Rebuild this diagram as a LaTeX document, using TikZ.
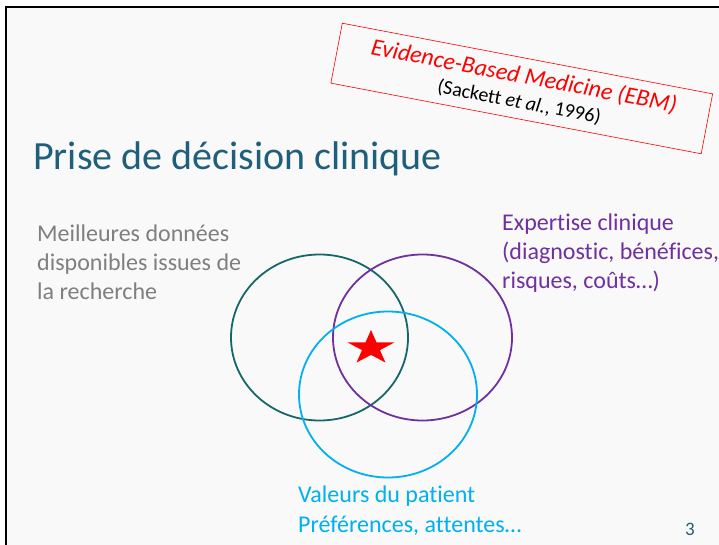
\documentclass[tikz,border=0pt]{standalone}
\usepackage{fontspec}
\setmainfont{Carlito}[Ligatures=NoCommon]
\usepackage{xcolor}
\usetikzlibrary{shapes.geometric}
\definecolor{titleteal}{HTML}{1F5F7B}
\definecolor{evteal}{HTML}{17676A}
\definecolor{expurple}{HTML}{7030A0}
\definecolor{patcyan}{HTML}{00B0F0}
\definecolor{evgray}{HTML}{7F7F7F}
\definecolor{slidebg}{HTML}{F9F9F9}

\begin{document}
\begin{tikzpicture}[
  x=1bp, y=-1bp,
  ring/.style={ellipse, draw, line width=1.8bp, inner sep=0pt, minimum width=177bp, minimum height=166bp},
  label/.style={anchor=base west, align=left, inner sep=0pt, font=\fontsize{24bp}{28.5bp}\selectfont},
  ebm/.style={draw=red, line width=0.6bp, align=center, inner sep=0pt, minimum width=377bp, minimum height=61bp}
]
\useasboundingbox (0,0) rectangle (719,545);
\fill[white] (0,0) rectangle (719,545);
\fill[slidebg] (6,7) rectangle (719,545);
\draw[line width=2.2bp] (6,545) -- (6,7) -- (719,7);

% title
\node[anchor=base west, inner sep=0pt, text=titleteal, font=\fontsize{40bp}{48bp}\selectfont] (title) at (33,170) {Prise de décision clinique};

% EBM label, tilted
\begin{scope}[shift={(521.75,88.5)}, rotate=-10.8]
\node[ebm, transform shape, font=\fontsize{20bp}{25bp}\selectfont] (ebm) at (0,0) {{\color{red}\itshape\fontsize{24bp}{25bp}\selectfont Evidence-Based Medicine (EBM)}\\
  (Sackett \textit{et al.}, 1996)};
\end{scope}

% three circles
\node[ring, draw=evteal] (evid) at (319.5,337.5) {};
\node[ring, draw=expurple, minimum width=179bp] (expert) at (422.5,337.5) {};
\node[ring, draw=patcyan, minimum width=178bp] (patient) at (388,394.5) {};

% star in the middle
\begin{scope}[shift={(371,348)}, xscale=1.37]
\node[star, star points=5, star point ratio=2.62, fill=red, inner sep=0pt, minimum size=36bp, transform shape] (core) at (0,0) {};
\end{scope}

% labels (anchored on the last line)
\node[label, text=evgray] (evidtxt) at (37,299) {Meilleures données\\disponibles issues de\\la recherche};
\node[label, text=expurple] (experttxt) at (502,288) {Expertise clinique\\(diagnostic, bénéfices,\\risques, coûts…)};
\node[label, text=patcyan, font=\fontsize{24bp}{29.5bp}\selectfont] (pattxt) at (298,532) {Valeurs du patient\\Préférences, attentes…};

\node[anchor=base, inner sep=0pt, text=titleteal, font=\fontsize{19bp}{20bp}\selectfont] (pagenum) at (690,535) {3};
\end{tikzpicture}
\end{document}
